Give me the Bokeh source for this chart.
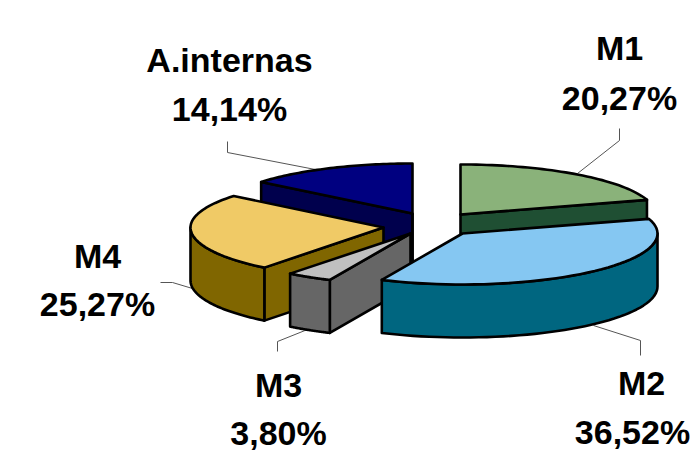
import numpy as np
from bokeh.plotting import figure
from bokeh.models import Range1d
from bokeh.embed import file_html
from bokeh.resources import INLINE

categories = ["M1", "M2", "M3", "M4", "A.internas"]
values = [20.27, 36.52, 3.80, 25.27, 14.14]
value_labels = ["20,27%", "36,52%", "3,80%", "25,27%", "14,14%"]
top_colors = ["#8AB27A", "#85C7F2", "#C0C0C0", "#F0CA66", "#000080"]
wall_colors = ["#1F4F33", "#006680", "#666666", "#806600", "#00004D"]

# layout of the exploded 3D pie, in reference pixels
apex = {"M1": (460, 214), "M2": (462, 233), "M3": (410, 233), "M4": (383, 227), "A.internas": (412, 213)}
RX, RY_BACK, RY_FRONT, DEPTH = 195, 50, 51, 53
label_pos = {"M1": (619, 47, 97), "M2": (641, 382, 431), "M3": (278, 384, 432),
             "M4": (97, 255, 303), "A.internas": (229, 59, 108)}
leaders = [([619, 619, 577], [128, 140, 173]), ([640, 640, 593], [355, 340, 325]),
           ([277, 277, 307], [351, 341, 329]), ([160, 172, 192], [282, 282, 288]),
           ([227, 227, 320], [141, 152, 170])]

p = figure(width=691, height=456, output_backend="svg", toolbar_location=None,
           x_range=Range1d(0, 691), y_range=Range1d(456, 0), min_border=0)
p.axis.visible = False
p.grid.visible = False
p.outline_line_color = None
p.background_fill_color = "white"

# slice angles from the values
angles = np.cumsum([0] + values) / sum(values) * 2 * np.pi
span = {c: (angles[i], angles[i + 1]) for i, c in enumerate(categories)}


def rim(c, a0, a1):
    t = np.linspace(a0, a1, 48)
    ax, ay = apex[c]
    ry = np.where(np.cos(t) > 0, RY_BACK, RY_FRONT)
    rx = RX - 2 if c == "M4" else RX
    return ax + rx * np.sin(t), ay - ry * np.cos(t)


def draw_poly(xs, ys, color):
    p.patch(list(xs), list(ys), fill_color=color, line_color="black", line_width=2.6, line_join="round")


def radial_wall(c, a):
    ax, ay = apex[c]
    x, y = rim(c, a, a)
    draw_poly([ax, x[0], x[0], ax], [ay, y[0], y[0] + DEPTH, ay + DEPTH], wall_colors[categories.index(c)])


def outer_wall(c, a0, a1):
    x, y = rim(c, a0, a1)
    draw_poly(np.r_[x, x[::-1]], np.r_[y, y[::-1] + DEPTH], wall_colors[categories.index(c)])


def top(c):
    ax, ay = apex[c]
    x, y = rim(c, *span[c])
    draw_poly(np.r_[ax, x], np.r_[ay, y], top_colors[categories.index(c)])


for xs, ys in leaders:
    p.line(xs, ys, line_color="#555555", line_width=1)

# back to front
radial_wall("A.internas", span["A.internas"][0])
ax, ay = apex["A.internas"]
p.line([ax, ax], [ay, ay + DEPTH], line_color="black", line_width=2.6)
top("A.internas")

radial_wall("M1", span["M1"][1])
top("M1")

radial_wall("M4", span["M4"][0])
outer_wall("M4", span["M4"][0], np.pi * 2 * 0.75)
top("M4")

radial_wall("M3", span["M3"][0])
outer_wall("M3", span["M3"][0], span["M3"][1])
top("M3")

outer_wall("M2", np.pi / 2, span["M2"][1])
top("M2")

for c, v in zip(categories, value_labels):
    x, y1, y2 = label_pos[c]
    v_x = x - 9 if c == "M2" else x
    p.text([x], [y1], text=[c], text_font_size="34px", text_font_style="bold", text_color="black",
           text_align="center", text_baseline="middle", text_font={"value": "Liberation Sans"})
    p.text([v_x], [y2], text=[v], text_font_size="34px", text_font_style="bold", text_color="black",
           text_align="center", text_baseline="middle", text_font={"value": "Liberation Sans"})

open("out.html", "w").write(file_html(p, INLINE))
